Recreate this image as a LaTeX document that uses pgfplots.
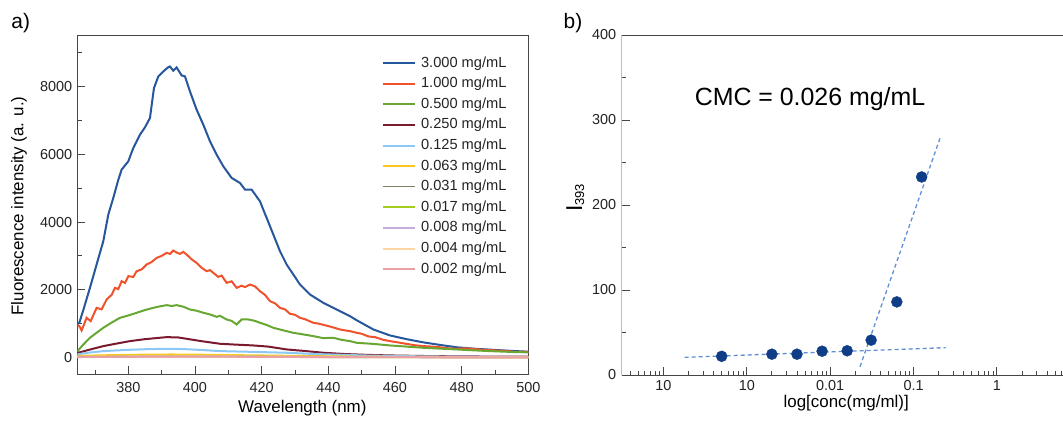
\documentclass[border=0pt]{standalone}
\usepackage{fontspec}
\setmainfont{Liberation Sans}
\usepackage{pgfplots}
\pgfplotsset{compat=1.18}
\definecolor{cA}{RGB}{38,86,155}
\definecolor{cB}{RGB}{240,82,45}
\definecolor{cC}{RGB}{104,168,50}
\definecolor{cD}{RGB}{122,26,46}
\definecolor{cE}{RGB}{140,200,245}
\definecolor{cF}{RGB}{250,200,30}
\definecolor{cG}{RGB}{125,130,105}
\definecolor{cH}{RGB}{165,205,30}
\definecolor{cI}{RGB}{195,175,215}
\definecolor{cJ}{RGB}{252,215,165}
\definecolor{cK}{RGB}{235,160,165}
\definecolor{axisgray}{RGB}{70,70,70}
\definecolor{txtgray}{RGB}{35,35,35}
\definecolor{dotblue}{RGB}{15,62,135}
\definecolor{fitblue}{RGB}{95,145,210}
\pgfplotsset{
  common/.style={
    scale only axis, anchor=south west,
    tick align=inside, tick pos=left,
    major tick length=8bp, minor tick length=4.5bp,
    axis line style={line width=0.9bp, color=axisgray},
    tick style={line width=0.9bp, color=axisgray},
    /pgf/number format/assume math mode=true,
    scaled ticks=false,
    /pgf/number format/1000 sep={},
    ticklabel style={font=\fontsize{14.5}{16}\selectfont, text=txtgray},
    label style={text=txtgray},
  }
}
\begin{document}
\begin{tikzpicture}[x=1bp,y=1bp]
\useasboundingbox (0,0) rectangle (1063,421);
\node[font=\fontsize{21}{24}\selectfont, text=black] at (20.7,397.5) {a)};
\node[font=\fontsize{21}{24}\selectfont, text=black] at (573,398) {b)};
% ---------------- panel a
\begin{axis}[common,
  at={(77.3bp,47bp)}, width=451bp, height=339bp,
  xmin=364.7, xmax=500, ymin=-490, ymax=9530,
  xtick={380,400,...,500}, minor xtick={370,390,...,490},
  ytick={0,2000,...,8000}, minor ytick={1000,3000,...,9000},
  xticklabel style={yshift=-4.5bp},
  yticklabel style={xshift=-1.5bp},
  xlabel={Wavelength (nm)}, ylabel={Fluorescence intensity (a. u.)},
  every axis x label/.style={at={(axis description cs:0.499,-0.1003)}, anchor=center, font=\fontsize{17}{19}\selectfont},
  every axis y label/.style={at={(axis description cs:-0.1295,0.4956)}, anchor=center, rotate=90, font=\fontsize{17}{19}\selectfont},
  no markers,
  legend cell align=left,
  legend image code/.code={\draw[#1] (0bp,0bp) -- (32bp,0bp);},
  legend style={at={(axis description cs:0.957,0.948)}, anchor=north east, draw=none, fill=none,
    inner sep=0pt, row sep=0pt, column sep=3bp, font=\fontsize{14.7}{16}\selectfont, text=txtgray,
    nodes={inner sep=2.2bp, text height=12bp, text depth=4.2bp}},
]
\addplot[cA, line width=2bp] coordinates {
(364.7,980)(365.3,1024)(366.5,1400)(368.5,2057)(370.5,2750)(372.5,3435)(374.0,4222)(375.5,4715)
(377.0,5250)(378.0,5550)(380.0,5796)(381.5,6190)(383.5,6584)(385.0,6800)(386.5,7077)(387.7,7962)
(389.0,8306)(390.5,8453)(392.0,8580)(392.5,8600)(393.5,8473)(394.5,8571)(396.0,8335)(397.0,8306)
(398.5,7863)(400.5,7322)(402.5,6879)(404.5,6387)(406.5,5993)(408.5,5649)(411.0,5305)(413.5,5157)
(415.0,4960)(417.0,4960)(419.5,4615)(421.5,4124)(423.5,3632)(425.5,3140)(427.5,2746)(429.5,2451)
(431.5,2155)(434.5,1860)(438.5,1614)(443.5,1368)(446.5,1220)(448.5,1100)(453.5,827)(458.5,650)
(463.5,540)(468.5,445)(473.5,370)(478.5,300)(483.5,260)(488.5,230)(495.5,190)(500,170)};
\addlegendentry{3.000 mg/mL}
\addplot[cB, line width=2bp] coordinates {
(364.7,950)(365.3,925)(366.0,797)(367.5,1171)(368.7,1073)(370.5,1466)(372.0,1420)(373.5,1712)
(375.0,1850)(376.0,2057)(377.0,2020)(378.0,2254)(379.0,2200)(380.0,2401)(381.5,2380)(382.5,2549)
(384.0,2600)(385.5,2746)(387.0,2820)(388.5,2943)(390.0,3000)(391.5,3091)(392.5,3060)(393.5,3160)
(394.5,3100)(395.5,3061)(396.5,3120)(397.5,3041)(399.0,2900)(400.5,2795)(402.0,2650)(403.5,2549)
(404.5,2580)(405.5,2500)(407.0,2380)(408.0,2420)(409.5,2205)(411.0,2250)(412.5,2057)(414.0,2120)
(415.0,2080)(416.5,2155)(418.0,2100)(419.5,1958)(421.0,1850)(422.5,1663)(424.0,1600)(425.5,1466)
(427.0,1420)(428.5,1290)(430.0,1260)(431.5,1171)(433.0,1130)(435.5,1024)(437.0,1000)(439.5,940)
(441.0,900)(443.5,827)(445.0,800)(446.5,777)(448.5,728)(450.0,700)(452.0,620)(454.0,600)
(456.5,520)(458.5,482)(460.5,450)(463.5,400)(466.0,360)(468.5,334)(471.0,320)(473.5,300)
(476.0,270)(478.5,256)(481.0,270)(483.5,250)(486.0,230)(488.5,217)(491.0,200)(493.5,190)
(496.0,160)(498.0,170)(500,160)};
\addlegendentry{1.000 mg/mL}
\addplot[cC, line width=2bp] coordinates {
(364.7,180)(366.5,380)(368.5,581)(370.5,730)(372.5,876)(375.0,1030)(377.5,1171)(380.0,1240)
(382.5,1319)(385.0,1400)(387.5,1466)(389.5,1510)(391.5,1545)(393.0,1520)(394.5,1545)(396.5,1500)
(398.5,1417)(400.5,1380)(402.5,1320)(404.5,1270)(406.5,1200)(407.5,1230)(409.5,1122)(411.0,1080)
(412.5,974)(414.0,1122)(416.0,1122)(418.0,1080)(419.5,1024)(421.5,960)(423.5,876)(426.5,800)
(429.5,728)(432.5,680)(435.5,630)(438.5,570)(441.5,581)(444.0,520)(446.5,482)(448.5,433)
(453.5,400)(458.5,354)(463.5,320)(468.5,285)(473.5,260)(478.5,236)(483.5,210)(488.5,187)
(495.5,160)(500,150)};
\addlegendentry{0.500 mg/mL}
\addplot[cD, line width=2bp] coordinates {
(364.7,130)(368,220)(372.5,334)(376.5,410)(380.5,482)(385,540)(391.5,600)(395,590)(397.5,551)
(402,480)(407.5,404)(412,380)(417.5,354)(422,320)(427.5,236)(433,190)(438.5,138)(445,100)
(452,75)(458.5,59)(470,40)(480,30)(490,25)(500,20)};
\addlegendentry{0.250 mg/mL}
\addplot[cE, line width=2bp] coordinates {
(364.7,90)(368,140)(372.5,187)(380,225)(386,245)(391.5,256)(397,245)(402,220)(407.5,187)
(417,165)(427.5,138)(436,100)(445,75)(452,55)(460,42)(470,30)(480,22)(490,18)(500,14)};
\addlegendentry{0.125 mg/mL}
\addplot[cF, line width=2bp] coordinates {
(364.7,45)(372,62)(380,75)(387,84)(393,87)(400,82)(410,70)(420,58)(430,45)(440,33)(450,24)
(460,17)(475,12)(490,9)(500,8)};
\addlegendentry{0.063 mg/mL}
\addplot[cG, line width=0.9bp] coordinates {
(364.7,20)(375,30)(385,37)(393,41)(405,38)(420,30)(435,20)(450,12)(470,7)(500,4)};
\addlegendentry{0.031 mg/mL}
\addplot[cH, line width=2bp] coordinates {
(364.7,14)(380,23)(393,28)(410,25)(430,16)(450,9)(475,5)(500,3)};
\addlegendentry{0.017 mg/mL}
\addplot[cI, line width=2bp] coordinates {
(364.7,14)(380,22)(393,27)(410,24)(430,15)(450,9)(475,5)(500,3)};
\addlegendentry{0.008 mg/mL}
\addplot[cJ, line width=2bp] coordinates {
(364.7,12)(380,20)(393,24)(410,21)(430,13)(450,8)(475,4)(500,2)};
\addlegendentry{0.004 mg/mL}
\addplot[cK, line width=2bp] coordinates {
(364.7,12)(380,19)(393,24)(410,21)(430,13)(450,8)(475,4)(500,2)};
\addlegendentry{0.002 mg/mL}
\end{axis}
% ---------------- panel b
\begin{axis}[common,
  at={(621.7bp,46bp)}, width=441.3bp, height=340bp,
  xmode=log, xmin=3.162e-5, xmax=6.2, ymin=0, ymax=400,
  separate axis lines,
  y axis line style={draw=none},
  xtick={1e-4,1e-3,1e-2,1e-1,1},
  xticklabels={10\hspace{9bp},10\hspace{9bp},0.01,0.1,1},
  minor xtick={4e-5,5e-5,6e-5,7e-5,8e-5,9e-5,2e-4,3e-4,4e-4,5e-4,6e-4,7e-4,8e-4,9e-4,
    2e-3,3e-3,4e-3,5e-3,6e-3,7e-3,8e-3,9e-3,0.02,0.03,0.04,0.05,0.06,0.07,0.08,0.09,
    0.2,0.3,0.4,0.5,0.6,0.7,0.8,0.9,2,3,4,5,6},
  ytick={0,100,...,400}, minor ytick={50,150,250,350},
  xticklabel style={yshift=-2bp},
  yticklabel style={xshift=-2bp},
  xlabel={log[conc(mg/ml)]},
  ylabel={I\raisebox{-2bp}{\fontsize{13}{14}\selectfont 393}},
  every axis x label/.style={at={(axis description cs:0.5087,-0.083)}, anchor=center, font=\fontsize{17}{19}\selectfont},
  every axis y label/.style={at={(axis description cs:-0.105,0.521)}, anchor=center, rotate=90, font=\fontsize{23}{26}\selectfont},
]
\draw[axisgray, line width=0.9bp] (rel axis cs:0,0) -- (rel axis cs:0,1);
\addplot[fitblue, line width=1.3bp, dash pattern=on 4bp off 3bp] coordinates {(1.8e-4,20.8) (0.243,32.2)};
\addplot[fitblue, line width=1.3bp, dash pattern=on 4bp off 3bp] coordinates {(0.0228,9.8) (0.2075,278.4)};
\addplot[only marks, mark=*, mark size=5.5bp, color=dotblue, mark options={fill=dotblue, draw=dotblue}] coordinates {
(0.0005,22) (0.002,24.5) (0.004,24.5) (0.008,28) (0.016,28.5) (0.031,41) (0.063,86) (0.125,233)};
\node[font=\fontsize{25}{28}\selectfont, text=black] at (axis description cs:0.4267,0.812) {CMC = 0.026 mg/mL};
\end{axis}
\end{tikzpicture}
\end{document}
